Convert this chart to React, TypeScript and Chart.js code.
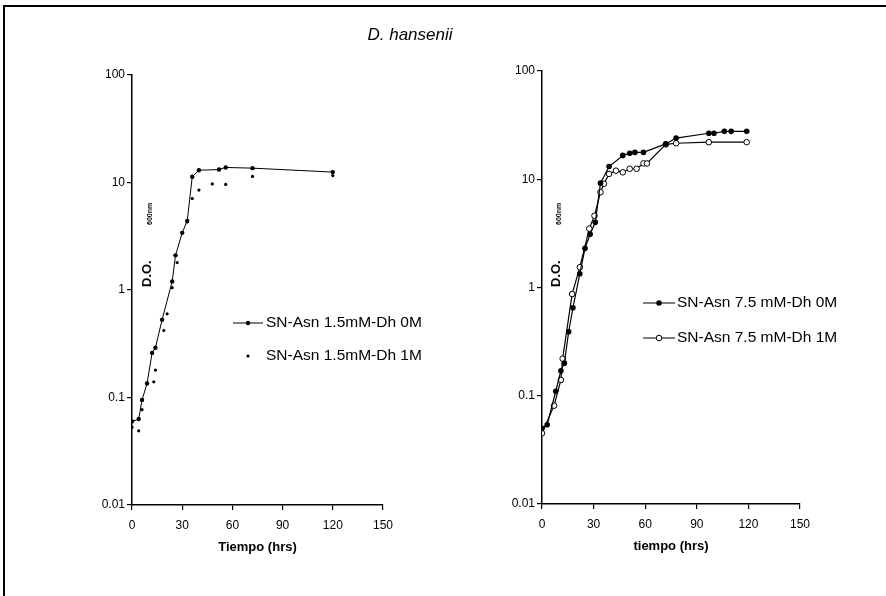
import React, { useEffect, useRef } from "react";
import { Chart, registerables } from "chart.js";
Chart.register(...registerables);

const figureTitle = "D. hansenii";
const yTickValues = [0.01, 0.1, 1, 10, 100];
const yTickLabels = ["0.01", "0.1", "1", "10", "100"];
const xTickStep = 30;
const xMax = 150;

const leftXTitle = "Tiempo (hrs)";
const rightXTitle = "tiempo (hrs)";
const yTitleMain = "D.O.";
const yTitleSub = "600nm";

const leftLabel0M = "SN-Asn 1.5mM-Dh 0M";
const leftLabel1M = "SN-Asn 1.5mM-Dh 1M";
const rightLabel0M = "SN-Asn 7.5 mM-Dh 0M";
const rightLabel1M = "SN-Asn 7.5 mM-Dh 1M";

const leftTime0M = [0, 4, 6, 9, 12, 14, 18, 24, 26, 30, 33, 36, 40, 52, 56, 72, 120];
const leftOD0M = [0.06, 0.063, 0.095, 0.135, 0.26, 0.29, 0.53, 1.2, 2.1, 3.4, 4.4, 11.3, 13, 13.2, 13.8, 13.6, 12.5];

const leftTime1M = [0, 4, 6, 13, 14, 19, 21, 24, 27, 33, 36, 40, 48, 56, 72, 120];
const leftOD1M = [0.053, 0.049, 0.077, 0.14, 0.18, 0.42, 0.6, 1.05, 1.8, 4.3, 7.1, 8.5, 9.7, 9.6, 11.4, 11.6];

const rightTime0M = [0, 3, 8, 11, 13, 15.5, 18, 22, 25, 28, 31, 34, 39, 47, 51, 54, 59, 72, 78, 97, 100, 106, 110, 119];
const rightOD0M = [0.05, 0.054, 0.11, 0.17, 0.2, 0.39, 0.65, 1.34, 2.3, 3.1, 4.0, 9.2, 13.1, 16.6, 17.4, 17.7, 17.7, 21.2, 24, 26.6, 26.6, 27.7, 27.7, 27.7];

const rightTime1M = [0, 7, 11, 12, 17.5, 22, 27.5, 30.5, 34, 36, 39, 43, 47, 51, 55, 59, 61, 72, 78, 97, 119];
const rightOD1M = [0.045, 0.081, 0.14, 0.22, 0.87, 1.54, 3.5, 4.6, 7.6, 9.1, 11.2, 12, 11.6, 12.5, 12.5, 14, 14, 21, 21.5, 22, 22];

const FONT = '"Liberation Sans", Arial, sans-serif';

function pts(xs: number[], ys: number[]) {
  return xs.map((x, i) => ({ x, y: ys[i] }));
}

type LegendItem = { kind: string; text: string; y: number };

const decorPlugin = {
  id: "decor",
  afterDraw(chart: any, _args: any, opts: any) {
    const ctx = chart.ctx;
    const a = chart.chartArea;
    ctx.save();
    ctx.fillStyle = "#000";
    ctx.strokeStyle = "#000";
    // y title
    ctx.save();
    ctx.translate(a.left + opts.yTitleDx, opts.yTitleY);
    ctx.rotate(-Math.PI / 2);
    ctx.font = "bold 13px " + FONT;
    ctx.textBaseline = "middle";
    ctx.textAlign = "left";
    ctx.fillText(yTitleMain, 0, 0);
    ctx.font = "bold 7px " + FONT;
    ctx.fillText(yTitleSub, opts.subGap, 3);
    ctx.restore();
    // legend
    const items: LegendItem[] = opts.items;
    ctx.font = "15.5px " + FONT;
    ctx.textBaseline = "middle";
    ctx.textAlign = "left";
    items.forEach((it) => {
      const x0 = opts.lineX0;
      const x1 = opts.lineX1;
      const xm = (x0 + x1) / 2;
      if (it.kind !== "dot") {
        ctx.lineWidth = 1;
        ctx.beginPath();
        ctx.moveTo(x0, it.y);
        ctx.lineTo(x1, it.y);
        ctx.stroke();
      }
      if (it.kind === "dot") {
        ctx.beginPath();
        ctx.arc(xm, it.y, 1.6, 0, Math.PI * 2);
        ctx.fill();
      } else if (it.kind === "lineDot") {
        ctx.beginPath();
        ctx.arc(xm, it.y, 2.2, 0, Math.PI * 2);
        ctx.fill();
      } else if (it.kind === "lineFilled") {
        ctx.beginPath();
        ctx.arc(xm, it.y, 2.8, 0, Math.PI * 2);
        ctx.fill();
      } else if (it.kind === "lineOpen") {
        ctx.beginPath();
        ctx.arc(xm, it.y, 2.8, 0, Math.PI * 2);
        ctx.fillStyle = "#fff";
        ctx.fill();
        ctx.stroke();
        ctx.fillStyle = "#000";
      }
      ctx.fillText(it.text, opts.textX, it.y);
    });
    ctx.restore();
  },
};

function makeConfig(datasets: any[], xTitle: string, padding: any, decor: any) {
  return {
    type: "scatter" as const,
    data: { datasets },
    plugins: [decorPlugin],
    options: {
      animation: false,
      responsive: false,
      maintainAspectRatio: false,
      layout: { padding },
      plugins: {
        legend: { display: false },
        tooltip: { enabled: false },
        decor,
      },
      scales: {
        x: {
          type: "linear",
          min: 0,
          max: xMax,
          afterFit: (s: any) => {
            s.height = 50;
          },
          ticks: {
            stepSize: xTickStep,
            color: "#000",
            font: { family: FONT, size: 12 },
            padding: 8,
          },
          grid: { display: true, drawOnChartArea: false, drawTicks: true, tickLength: 5, color: "#000", lineWidth: 1.2 },
          border: { display: true, color: "#000", width: 1.5 },
          title: {
            display: true,
            text: xTitle,
            color: "#000",
            font: { family: FONT, size: 13, weight: "bold" },
            padding: { top: 4, bottom: 0 },
          },
        },
        y: {
          type: "logarithmic",
          min: 0.01,
          max: 100,
          afterFit: (s: any) => {
            s.width = 40;
          },
          afterBuildTicks: (s: any) => {
            s.ticks = yTickValues.map((v) => ({ value: v, major: true }));
          },
          ticks: {
            color: "#000",
            font: { family: FONT, size: 12 },
            padding: 2,
            autoSkip: false,
            callback: (v: any) => {
              const i = yTickValues.findIndex((t) => Math.abs(t - v) < t * 1e-6);
              return i >= 0 ? yTickLabels[i] : "";
            },
          },
          grid: { display: true, drawOnChartArea: false, drawTicks: true, tickLength: 5, color: "#000", lineWidth: 1.2 },
          border: { display: true, color: "#000", width: 1.5 },
        },
      },
    },
  };
}

function ChartCanvas({ config, style }: { config: any; style: any }) {
  const ref = useRef<HTMLCanvasElement | null>(null);
  useEffect(() => {
    if (!ref.current) return;
    const c = new Chart(ref.current, config);
    return () => c.destroy();
  }, []);
  return <canvas ref={ref} width={443} height={596} style={style} />;
}

export default function App() {
  const leftDatasets = [
    {
      label: leftLabel0M,
      data: pts(leftTime0M, leftOD0M),
      showLine: true,
      borderColor: "#000",
      backgroundColor: "#000",
      borderWidth: 1,
      pointRadius: 2.2,
      pointBorderWidth: 0,
    },
    {
      label: leftLabel1M,
      data: pts(leftTime1M, leftOD1M),
      showLine: false,
      borderColor: "#000",
      backgroundColor: "#000",
      pointRadius: 1.6,
      pointBorderWidth: 0,
    },
  ];
  const rightDatasets = [
    {
      label: rightLabel0M,
      data: pts(rightTime0M, rightOD0M),
      showLine: true,
      borderColor: "#000",
      backgroundColor: "#000",
      borderWidth: 1.2,
      pointRadius: 2.8,
      pointBorderWidth: 0,
    },
    {
      label: rightLabel1M,
      data: pts(rightTime1M, rightOD1M),
      showLine: true,
      borderColor: "#000",
      backgroundColor: "#fff",
      borderWidth: 1.2,
      pointRadius: 2.8,
      pointBorderWidth: 1,
    },
  ];

  const leftCfg = makeConfig(leftDatasets, leftXTitle, { left: 92, top: 75, right: 60, bottom: 41 }, {
    yTitleDx: 15,
    yTitleY: 287,
    subGap: 62,
    lineX0: 233,
    lineX1: 263,
    textX: 266,
    items: [
      { kind: "lineDot", text: leftLabel0M, y: 323 },
      { kind: "dot", text: leftLabel1M, y: 356 },
    ],
  });
  const rightCfg = makeConfig(rightDatasets, rightXTitle, { left: 59, top: 71, right: 86, bottom: 42 }, {
    yTitleDx: 14,
    yTitleY: 287,
    subGap: 62,
    lineX0: 200,
    lineX1: 232,
    textX: 234,
    items: [
      { kind: "lineFilled", text: rightLabel0M, y: 303 },
      { kind: "lineOpen", text: rightLabel1M, y: 338 },
    ],
  });

  return (
    <div
      style={{
        position: "absolute",
        left: 0,
        top: 0,
        width: 886,
        height: 596,
        background: "#fff",
        overflow: "hidden",
      }}
    >
      <div
        style={{
          position: "absolute",
          left: 3,
          top: 5,
          width: 883,
          height: 591,
          borderTop: "2px solid #000",
          borderLeft: "2px solid #000",
          boxSizing: "border-box",
        }}
      />
      <ChartCanvas config={leftCfg} style={{ position: "absolute", left: 0, top: 0 }} />
      <ChartCanvas config={rightCfg} style={{ position: "absolute", left: 443, top: 0 }} />
      <div
        style={{
          position: "absolute",
          left: 300,
          width: 220,
          top: 25,
          textAlign: "center",
          fontFamily: FONT,
          fontStyle: "italic",
          fontSize: 17,
          color: "#000",
        }}
      >
        {figureTitle}
      </div>
    </div>
  );
}
